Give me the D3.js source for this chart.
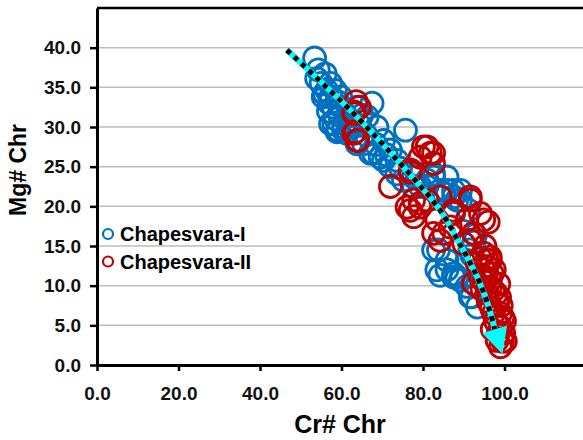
<!DOCTYPE html>
<html>
<head>
<meta charset="utf-8">
<script src="https://cdn.jsdelivr.net/npm/d3@7"></script>
<style>
    body { margin: 0; background: #fff; }
    text { font-family: "Liberation Sans", Arial, sans-serif; }
</style>
</head>
<body>
<script>
// Chapesvara-I (blue), [Cr#, Mg#]
const seriesI = [
    [53.4, 38.7], [54.3, 37.2], [53.9, 36.1], [56.0, 36.7], [55.0, 35.5], [57.3, 35.5], [56.4, 34.6],
    [58.5, 34.6], [55.5, 33.8], [57.4, 33.8], [59.0, 33.2], [58.0, 32.5], [60.0, 32.5], [56.8, 32.0],
    [59.5, 31.5], [61.3, 31.3], [58.1, 30.4], [60.5, 30.0], [57.3, 30.4], [59.2, 29.6], [58.9, 29.4],
    [60.5, 29.6], [61.3, 29.2], [62.5, 30.5], [63.8, 32.5], [65.0, 31.5], [66.3, 31.3], [67.5, 33.0],
    [64.5, 30.2], [68.7, 30.0], [63.8, 27.9], [65.4, 27.9], [67.1, 26.7], [67.9, 26.7], [69.5, 26.2],
    [70.3, 28.3], [72.0, 27.1], [70.3, 25.8], [72.0, 25.0], [73.6, 25.8], [73.6, 24.1], [75.2, 23.3],
    [75.7, 29.6], [77.7, 23.7], [78.5, 24.1], [77.7, 22.5], [79.3, 22.5], [81.0, 22.5], [81.0, 23.3],
    [82.6, 23.7], [82.6, 24.1], [84.2, 22.0], [85.9, 22.0], [85.9, 23.7], [87.5, 22.0], [88.3, 20.8],
    [89.2, 22.0], [89.2, 20.8], [87.5, 21.2], [85.1, 21.6], [91.2, 19.5], [92.9, 16.4], [83.8, 14.5],
    [82.6, 14.5], [84.2, 11.3], [83.4, 12.0], [85.9, 13.2], [85.9, 12.0], [87.5, 11.1], [88.3, 11.1],
    [87.5, 11.5], [90.8, 13.2], [89.2, 10.7], [90.8, 9.9], [91.6, 8.6], [92.0, 8.6], [93.3, 9.9],
    [93.3, 7.3], [91.5, 14.5], [92.5, 15.5], [92.0, 13.8], [55.8, 34.2], [57.0, 33.0], [58.6, 31.0],
    [59.8, 33.8], [61.8, 30.0], [66.0, 29.0], [68.5, 27.8], [71.0, 26.5], [74.5, 24.8]
];

// Chapesvara-II (red), [Cr#, Mg#]
const seriesII = [
    [63.6, 33.2], [64.4, 32.5], [63.1, 31.9], [63.0, 31.7], [63.4, 29.4], [64.0, 28.3], [63.0, 29.2],
    [63.8, 28.3], [80.1, 27.5], [81.0, 27.5], [81.8, 26.7], [82.6, 26.7], [82.6, 25.4], [79.3, 26.2],
    [76.9, 24.3], [76.9, 24.6], [72.0, 22.5], [77.7, 20.8], [76.1, 19.9], [79.3, 20.4], [81.0, 20.8],
    [84.2, 21.2], [91.6, 21.2], [94.1, 19.1], [96.0, 18.0], [87.5, 19.5], [76.9, 19.5], [77.7, 18.7],
    [79.3, 19.9], [83.4, 18.3], [82.6, 16.6], [84.2, 15.7], [86.7, 17.4], [87.5, 19.1], [90.8, 18.3],
    [94.9, 18.3], [91.6, 20.8], [90.0, 15.3], [92.4, 16.6], [91.6, 15.7], [85.1, 16.6], [94.9, 14.1],
    [95.7, 12.4], [96.5, 13.2], [94.9, 12.0], [95.7, 13.2], [96.5, 10.7], [97.3, 9.4], [95.7, 9.0],
    [98.2, 7.8], [99.0, 6.5], [97.3, 6.5], [99.0, 4.8], [98.2, 3.1], [99.0, 2.3], [99.8, 4.0],
    [93.3, 12.8], [94.1, 11.1], [96.5, 13.6], [92.4, 10.3], [95.0, 10.5], [96.0, 8.0], [97.8, 5.5],
    [98.5, 4.0], [99.5, 3.0], [96.8, 7.2], [94.5, 9.5], [97.0, 11.5], [98.0, 9.0], [99.2, 7.5],
    [100.0, 5.5], [100.2, 3.0], [98.8, 8.5], [97.5, 12.0], [95.5, 11.0], [94.0, 13.5], [98.6, 10.2],
    [99.6, 6.0], [97.0, 4.5], [95.2, 15.0], [96.5, 9.8]
];

// trend arrow path and its tip
const trendPoints = [
    [46.6, 39.7], [62.2, 32.1], [74.4, 25.4], [84.2, 19.5], [89.2, 15.1], [93.3, 11.1], [96.0, 7.5], [97.6, 4.5]
];
const trendTip = [99.5, 1.4];

const xTicks = [0, 20, 40, 60, 80, 100];
const yTicks = [0, 5, 10, 15, 20, 25, 30, 35, 40];
const legendLabels = ['Chapesvara-I', 'Chapesvara-II'];

const svgWidth = 583;
const svgHeight = 440;
const blue = '#0070c0';
const red = '#c00000';

const x = d3.scaleLinear().domain([0, 120]).range([97, 586]);
const y = d3.scaleLinear().domain([0, 45]).range([365, 8]);

const svg = d3.select('body').append('svg')
    .attr('width', svgWidth)
    .attr('height', svgHeight);

// gridlines
svg.append('g')
    .selectAll('line')
    .data(yTicks.filter(d => d > 0))
    .join('line')
    .attr('x1', x(0))
    .attr('x2', svgWidth)
    .attr('y1', d => y(d))
    .attr('y2', d => y(d))
    .attr('stroke', '#bdbdbd')
    .attr('stroke-width', 1.5);

// top border of plot area
svg.append('line')
    .attr('x1', x(0))
    .attr('x2', svgWidth)
    .attr('y1', y(45))
    .attr('y2', y(45))
    .attr('stroke', '#000')
    .attr('stroke-width', 2.5);

// axes
const axisX = svg.append('g')
    .attr('transform', `translate(0,${y(0)})`)
    .call(d3.axisBottom(x).tickValues(xTicks).tickFormat(d3.format('.1f')).tickSize(6).tickSizeOuter(0).tickPadding(16));

const axisY = svg.append('g')
    .attr('transform', `translate(${x(0)},0)`)
    .call(d3.axisLeft(y).tickValues(yTicks).tickFormat(d3.format('.1f')).tickSize(7).tickSizeOuter(0).tickPadding(9));

[axisX, axisY].forEach(g => {
    g.select('.domain').attr('stroke', '#000').attr('stroke-width', 3);
    g.selectAll('.tick line').attr('stroke', '#000').attr('stroke-width', 2.5);
    g.selectAll('.tick text')
        .attr('fill', '#111')
        .style('font-size', '19px')
        .style('font-weight', 'bold')
        .style('font-family', '"Liberation Sans", Arial, sans-serif');
});

// data points
function drawSeries(data, color) {
    svg.append('g')
        .selectAll('circle')
        .data(data)
        .join('circle')
        .attr('cx', d => x(d[0]))
        .attr('cy', d => y(d[1]))
        .attr('r', 11)
        .attr('fill', 'none')
        .attr('stroke', color)
        .attr('stroke-width', 2.8);
}
drawSeries(seriesI, blue);
drawSeries(seriesII, red);

// trend arrow
const trendLine = d3.line()
    .x(d => x(d[0]))
    .y(d => y(d[1]))
    .curve(d3.curveCatmullRom);

svg.append('path')
    .datum(trendPoints)
    .attr('d', trendLine)
    .attr('fill', 'none')
    .attr('stroke', '#00ffff')
    .attr('stroke-width', 6);

svg.append('path')
    .datum(trendPoints)
    .attr('d', trendLine)
    .attr('fill', 'none')
    .attr('stroke', '#000')
    .attr('stroke-width', 5)
    .attr('stroke-dasharray', '5,5');

const base = trendPoints[trendPoints.length - 1];
const bx = x(base[0]), by = y(base[1]);
const tx = x(trendTip[0]), ty = y(trendTip[1]);
const len = Math.hypot(tx - bx, ty - by);
const nx = -(ty - by) / len, ny = (tx - bx) / len;
const halfW = 13;
svg.append('polygon')
    .attr('points', [[bx + nx * halfW, by + ny * halfW], [tx, ty], [bx - nx * halfW, by - ny * halfW]].map(p => p.join(',')).join(' '))
    .attr('fill', '#00ffff');

// legend
const legend = svg.append('g')
    .selectAll('g')
    .data(legendLabels)
    .join('g')
    .attr('transform', (d, i) => `translate(108,${234 + i * 27.5})`);

legend.append('circle')
    .attr('r', 5)
    .attr('fill', 'none')
    .attr('stroke', (d, i) => i === 0 ? blue : red)
    .attr('stroke-width', 2.2);

legend.append('text')
    .attr('x', 12)
    .attr('y', 7)
    .style('font-size', '20px')
    .style('font-weight', 'bold')
    .text(d => d);

// axis titles
svg.append('text')
    .attr('x', 340)
    .attr('y', 433)
    .attr('text-anchor', 'middle')
    .style('font-size', '25px')
    .style('font-weight', 'bold')
    .text('Cr# Chr');

svg.append('text')
    .attr('transform', 'translate(26,170) rotate(-90)')
    .attr('text-anchor', 'middle')
    .style('font-size', '23px')
    .style('font-weight', 'bold')
    .text('Mg# Chr');
</script>
</body>
</html>
